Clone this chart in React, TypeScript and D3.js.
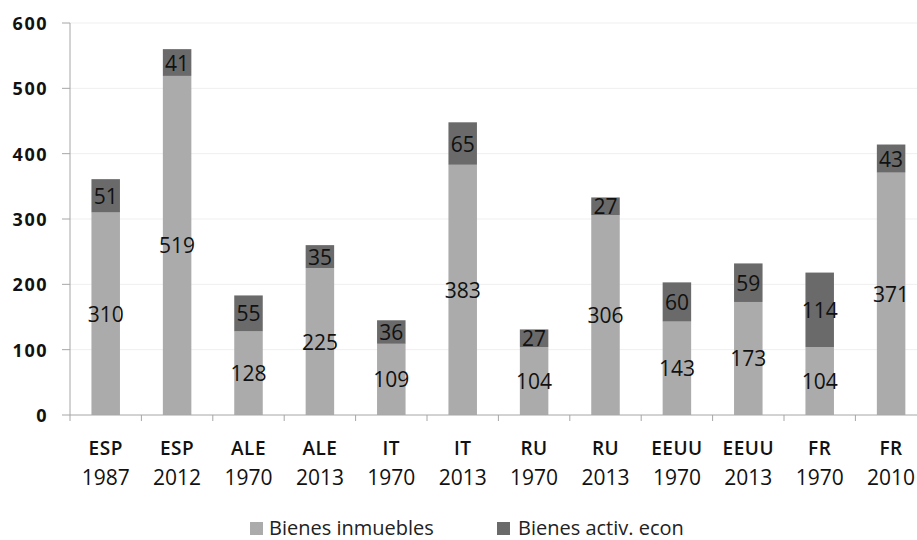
import React from "react";
import * as d3 from "d3";

const countries = ["ESP", "ESP", "ALE", "ALE", "IT", "IT", "RU", "RU", "EEUU", "EEUU", "FR", "FR"];
const years = ["1987", "2012", "1970", "2013", "1970", "2013", "1970", "2013", "1970", "2013", "1970", "2010"];
const inmuebles = [310, 519, 128, 225, 109, 383, 104, 306, 143, 173, 104, 371];
const activEcon = [51, 41, 55, 35, 36, 65, 27, 27, 60, 59, 114, 43];
const yTicks = [0, 100, 200, 300, 400, 500, 600];
const seriesNames = ["Bienes inmuebles", "Bienes activ. econ"];
const colors = ["#ababab", "#6a6a6a"];

export default function App() {
  const W = 917, H = 540;
  const x0 = 70, y0 = 415, yTop = 23;
  const step = 71.4;
  const ids = countries.map((_, i) => String(i));
  const y = d3.scaleLinear().domain([0, 600]).range([y0, yTop]);
  const font = "'Open Sans', sans-serif";
  const bw = 28.5;

  return (
    <svg width={W} height={H} style={{ position: "absolute", left: 0, top: 0 }} fontFamily={font}>
      <rect width={W} height={H} fill="#fff" />
      {yTicks.filter(t => t > 0).map(t => (
        <line key={"g" + t} x1={x0} x2={W} y1={y(t)} y2={y(t)} stroke="#efefef" strokeWidth={1} />
      ))}
      {ids.map((id, i) => {
        const cx = x0 + step * (i + 0.5);
        const a = inmuebles[i], b = activEcon[i];
        return (
          <g key={id}>
            <rect x={cx - bw / 2} y={y(a)} width={bw} height={y(0) - y(a)} fill={colors[0]} />
            <rect x={cx - bw / 2} y={y(a + b)} width={bw} height={y(a) - y(a + b)} fill={colors[1]} />
            <text x={cx} y={y(a / 2)} textAnchor="middle" dominantBaseline="central" fontSize={21} fill="#111">{a}</text>
            <text x={cx} y={y(a + b / 2)} textAnchor="middle" dominantBaseline="central" fontSize={21} fill="#111">{b}</text>
          </g>
        );
      })}
      <line x1={x0} x2={x0} y1={yTop} y2={y0} stroke="#a6a6a6" />
      <line x1={x0} x2={W} y1={y0} y2={y0} stroke="#a6a6a6" />
      {yTicks.map(t => (
        <g key={"t" + t}>
          <line x1={62} x2={x0} y1={y(t)} y2={y(t)} stroke="#a6a6a6" />
          <text x={48} y={y(t)} textAnchor="end" dominantBaseline="central" fontSize={18} fontWeight={700} letterSpacing={1.5} fill="#111">{t}</text>
        </g>
      ))}
      {d3.range(ids.length + 1).map(i => (
        <line key={"xt" + i} x1={x0 + step * i} x2={x0 + step * i} y1={y0} y2={y0 + 6} stroke="#a6a6a6" />
      ))}
      {ids.map((id, i) => {
        const cx = x0 + step * (i + 0.5);
        return (
          <g key={"xl" + id}>
            <text x={cx} y={448} textAnchor="middle" dominantBaseline="central" fontSize={19} fontWeight={600} letterSpacing={0.5} fill="#111">{countries[i]}</text>
            <text x={cx} y={477} textAnchor="middle" dominantBaseline="central" fontSize={21} fill="#111">{years[i]}</text>
          </g>
        );
      })}
      <rect x={250} y={522} width={13} height={13} fill={colors[0]} />
      <text x={269} y={527} dominantBaseline="central" fontSize={20} fill="#222">{seriesNames[0]}</text>
      <rect x={497} y={522} width={13} height={13} fill={colors[1]} />
      <text x={518} y={527} dominantBaseline="central" fontSize={20} fill="#222">{seriesNames[1]}</text>
    </svg>
  );
}
